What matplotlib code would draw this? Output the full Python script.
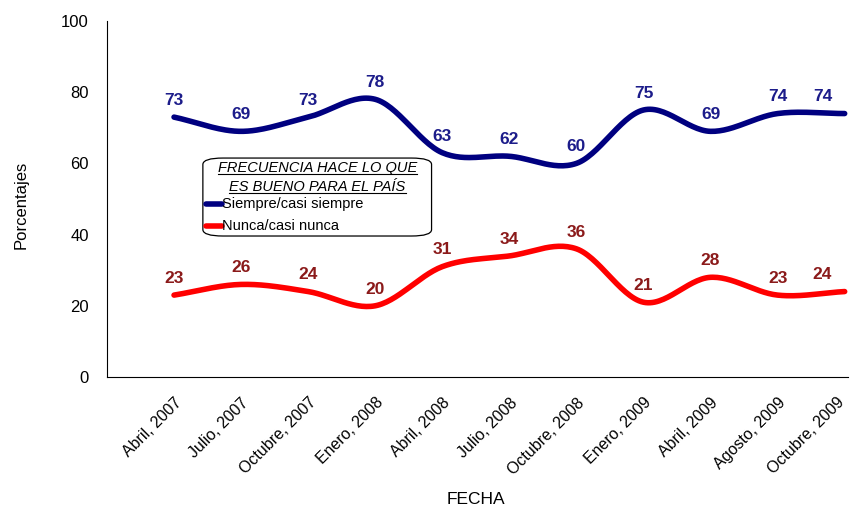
import numpy as np
import matplotlib.pyplot as plt
import matplotlib.transforms as mtransforms
from matplotlib.patches import FancyBboxPatch
from matplotlib.lines import Line2D

plt.rcParams['font.family'] = ['Liberation Sans', 'DejaVu Sans']

# datos
fechas = ['Abril, 2007', 'Julio, 2007', 'Octubre, 2007', 'Enero, 2008',
          'Abril, 2008', 'Julio, 2008', 'Octubre, 2008', 'Enero, 2009',
          'Abril, 2009', 'Agosto, 2009', 'Octubre, 2009']
siempre = [73, 69, 73, 78, 63, 62, 60, 75, 69, 74, 74]
nunca = [23, 26, 24, 20, 31, 34, 36, 21, 28, 23, 24]

azul = '#000080'
rojo = '#ff0000'
azul_txt = '#1c1c8a'
rojo_txt = '#8b1a1a'


def suavizar(x, y, n=30):
    # curva Catmull-Rom entre los puntos (como la línea suavizada de Excel)
    x = np.asarray(x, float)
    y = np.asarray(y, float)
    px = np.concatenate([[2 * x[0] - x[1]], x, [2 * x[-1] - x[-2]]])
    py = np.concatenate([[2 * y[0] - y[1]], y, [2 * y[-1] - y[-2]]])
    xs, ys = [], []
    t = np.linspace(0, 1, n, endpoint=False)
    for i in range(1, len(px) - 2):
        for p, out in ((px, xs), (py, ys)):
            p0, p1, p2, p3 = p[i - 1], p[i], p[i + 1], p[i + 2]
            out.extend(0.5 * (2 * p1 + (-p0 + p2) * t
                              + (2 * p0 - 5 * p1 + 4 * p2 - p3) * t ** 2
                              + (-p0 + 3 * p1 - 3 * p2 + p3) * t ** 3))
    xs.append(x[-1])
    ys.append(y[-1])
    return np.array(xs), np.array(ys)


fig = plt.figure(figsize=(8.51, 5.12), dpi=100)
ax = fig.add_axes([0.1257, 0.2637, 0.8708, 0.6953])

x = np.arange(len(fechas))
for vals, col, tcol in ((siempre, azul, azul_txt), (nunca, rojo, rojo_txt)):
    sx, sy = suavizar(x, vals)
    ax.plot(sx, sy, color=col, lw=4, solid_capstyle='round')
    for i, (xi, v) in enumerate(zip(x, vals)):
        dx = -16 if i == len(x) - 1 else 0
        ax.annotate(str(v), (xi, v), xytext=(dx, 12), textcoords='offset points',
                    ha='center', va='center', fontsize=12.5, fontweight='bold',
                    color=tcol)

ax.set_xlim(-1, 10.05)
ax.set_ylim(0, 100)
ax.set_yticks([0, 20, 40, 60, 80, 100])
ax.set_xticks(x)
ax.set_xticklabels(fechas, rotation=45, ha='right', va='top',
                   rotation_mode='anchor', fontsize=11.5)
ax.tick_params(axis='both', length=0)
ax.tick_params(axis='y', labelsize=12, pad=13)
ax.tick_params(axis='x', pad=13)
ult = ax.get_xticklabels()[-1]
ult.set_transform(ult.get_transform() +
                  mtransforms.ScaledTranslation(-6 / 72, 0, fig.dpi_scale_trans))
for s in ['top', 'right']:
    ax.spines[s].set_visible(False)
for s in ['left', 'bottom']:
    ax.spines[s].set_linewidth(0.8)

fig.text(0.025, 0.60, 'Porcentajes', rotation=90, ha='center', va='center',
         fontsize=12)
fig.text(0.559, 0.024, 'FECHA', ha='center', va='center', fontsize=12.5)

# leyenda dibujada a mano (título cursiva subrayado)
caja = FancyBboxPatch((0.43, 39.6), 3.41, 21.9,
                      boxstyle='round,pad=0,rounding_size=0.3',
                      mutation_aspect=6, fc='white', ec='black', lw=0.9,
                      zorder=5)
ax.add_patch(caja)
titulos = []
for ty, tx in ((58.6, 'FRECUENCIA HACE LO QUE'), (53.5, 'ES BUENO PARA EL PAÍS')):
    titulos.append(ax.text(2.14, ty, tx, ha='center', va='center',
                           fontsize=10.5, style='italic', zorder=6))
for ty, col, nombre in ((48.5, azul, 'Siempre/casi siempre'),
                        (42.3, rojo, 'Nunca/casi nunca')):
    ax.plot([0.47, 0.71], [ty, ty], color=col, lw=4, zorder=6,
            solid_capstyle='round')
    ax.text(0.72, ty, nombre, ha='left', va='center', fontsize=10.5, zorder=6)

fig.canvas.draw()
r = fig.canvas.get_renderer()
inv = ax.transData.inverted()
for t in titulos:
    bb = t.get_window_extent(r)
    (x0, y0), (x1, _) = inv.transform([(bb.x0, bb.y0 + 1), (bb.x1, bb.y0 + 1)])
    ax.add_line(Line2D([x0, x1], [y0, y0], color='black', lw=0.8, zorder=6))

fig.savefig('out.png', dpi=100)
